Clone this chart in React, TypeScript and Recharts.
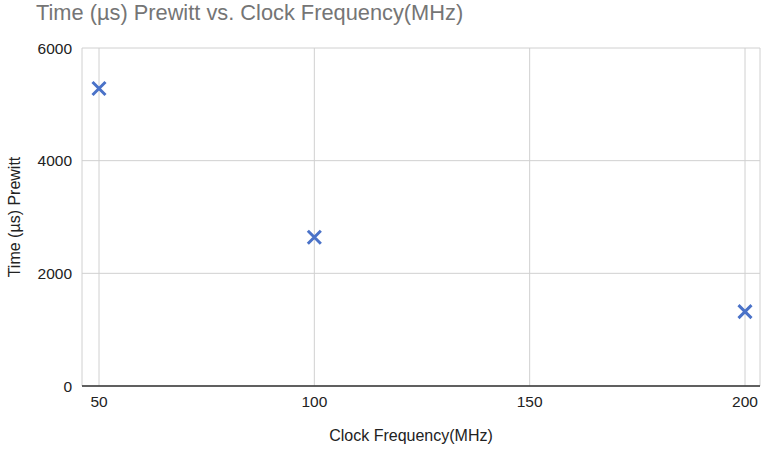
import React from 'react';
import {
    ScatterChart,
    Scatter,
    XAxis,
    YAxis,
    CartesianGrid,
    Label,
} from 'recharts';

const clockFreq = [50, 100, 200];
const timePrewitt = [5280, 2640, 1320];
const xTicks = [50, 100, 150, 200];
const yTicks = [0, 2000, 4000, 6000];

const data = clockFreq.map((f, i) => ({x: f, y: timePrewitt[i]}));

const font = 'Arial, "Liberation Sans", sans-serif';

// blue "x" marker like the google sheets one
const XMark = (props: any) => {
    const {cx, cy} = props;
    const s = 6.5;
    return (
        <g>
            <path
                d={`M${cx - s},${cy - s}L${cx + s},${cy + s}M${cx + s},${cy - s}L${cx - s},${cy + s}`}
                stroke="#4a72c8"
                strokeWidth={3}
                strokeLinecap="butt"
            />
        </g>
    );
};

export default function App() {
    return (
        <div style={{position: 'absolute', left: 0, top: 0, width: 762, height: 449, background: '#fff', fontFamily: font}}>
            <div style={{position: 'absolute', left: 36, top: 0, fontSize: 21.8, color: '#757575', whiteSpace: 'nowrap'}}>
                Time (µs) Prewitt vs. Clock Frequency(MHz)
            </div>
            <ScatterChart
                width={762}
                height={449}
                margin={{top: 48, right: 2, left: 0, bottom: 0}}
                style={{fontFamily: font}}
            >
                <CartesianGrid stroke="#d0d0d0" />
                <XAxis
                    type="number"
                    dataKey="x"
                    domain={[50, 200]}
                    ticks={xTicks}
                    padding={{left: 17, right: 15}}
                    height={63}
                    axisLine={{stroke: '#333', strokeWidth: 1.5}}
                    tickLine={false}
                    tickSize={8}
                    tickMargin={2}
                    tick={{fill: '#222', fontSize: 15.5}}
                >
                    <Label value="Clock Frequency(MHz)" position="insideBottom" offset={8} dx={-10}
                           style={{fill: '#222', fontSize: 16}} />
                </XAxis>
                <YAxis
                    type="number"
                    dataKey="y"
                    domain={[0, 6000]}
                    ticks={yTicks}
                    width={82}
                    axisLine={false}
                    tickLine={false}
                    tickSize={8}
                    tickMargin={2}
                    tick={{fill: '#222', fontSize: 15.5}}
                >
                    <Label value="Time (µs) Prewitt" angle={-90} position="insideLeft" offset={14}
                           style={{fill: '#222', fontSize: 16, textAnchor: 'middle'}} />
                </YAxis>
                <Scatter data={data} shape={<XMark />} isAnimationActive={false} />
            </ScatterChart>
        </div>
    );
}
